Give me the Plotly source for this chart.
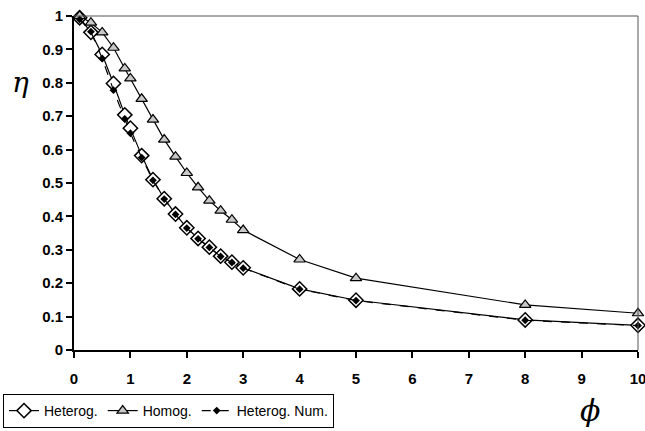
import plotly.graph_objects as go

phi = [0.1, 0.3, 0.5, 0.7, 0.9, 1.0, 1.2, 1.4, 1.6, 1.8, 2.0, 2.2, 2.4, 2.6, 2.8, 3.0, 4, 5, 8, 10]
heterog = [0.995, 0.951, 0.885, 0.798, 0.704, 0.664, 0.582, 0.51, 0.453, 0.407, 0.366, 0.334,
           0.308, 0.281, 0.263, 0.246, 0.183, 0.149, 0.09, 0.074]
homog = [1.0, 0.98, 0.951, 0.905, 0.843, 0.813, 0.752, 0.69, 0.63, 0.579, 0.53, 0.487,
         0.447, 0.417, 0.39, 0.359, 0.271, 0.215, 0.135, 0.11]
heterog_num = [0.99, 0.953, 0.873, 0.778, 0.692, 0.649, 0.576, 0.508, 0.452, 0.406, 0.365, 0.333,
               0.307, 0.28, 0.262, 0.245, 0.182, 0.148, 0.089, 0.073]

x_ticks = list(range(0, 11))
x_ticklabels = [str(v) for v in x_ticks]
y_ticks = [0, 0.1, 0.2, 0.3, 0.4, 0.5, 0.6, 0.7, 0.8, 0.9, 1]
y_ticklabels = ["0", "0.1", "0.2", "0.3", "0.4", "0.5", "0.6", "0.7", "0.8", "0.9", "1"]

fig = go.Figure()
fig.add_trace(go.Scatter(
    x=phi, y=heterog, name="Heterog.", mode="lines+markers", cliponaxis=False,
    line=dict(color="black", width=1.2),
    marker=dict(symbol="diamond", size=11, color="white", line=dict(color="black", width=1.5)),
))
fig.add_trace(go.Scatter(
    x=phi, y=homog, name="Homog.", mode="lines+markers", cliponaxis=False,
    line=dict(color="black", width=1.2),
    marker=dict(symbol="triangle-up", size=10, color="#c8c8c8", line=dict(color="black", width=1.2)),
))
fig.add_trace(go.Scatter(
    x=phi, y=heterog_num, name="Heterog. Num.", mode="lines+markers", cliponaxis=False,
    line=dict(color="black", width=1.2, dash="dash"),
    marker=dict(symbol="diamond", size=6, color="black"),
))

tickfont = dict(family="Liberation Sans", size=15, color="black", weight="bold")

fig.update_layout(
    width=645, height=431,
    margin=dict(l=74, r=7, t=16, b=81),
    plot_bgcolor="white", paper_bgcolor="white",
    showlegend=True,
    legend=dict(
        orientation="h", x=3 / 645, y=3 / 431, xanchor="left", yanchor="bottom",
        xref="container", yref="container",
        bordercolor="black", borderwidth=1, bgcolor="white",
        font=dict(family="Liberation Sans", size=14, color="black"),
        itemwidth=30, tracegroupgap=0,
    ),
    xaxis=dict(
        range=[0, 10], tickvals=x_ticks, ticktext=x_ticklabels, automargin=False,
        showgrid=False, zeroline=False, showline=True, linecolor="black", linewidth=2,
        ticks="outside", ticklen=6, tickwidth=2, tickcolor="black",
        tickfont=tickfont, ticklabelstandoff=8, ticklabeloverflow="allow",
    ),
    yaxis=dict(
        range=[0, 1], tickvals=y_ticks, ticktext=y_ticklabels, automargin=False,
        showgrid=False, zeroline=False, showline=True, linecolor="black", linewidth=2,
        ticks="outside", ticklen=6, tickwidth=2, tickcolor="black",
        tickfont=tickfont, ticklabeloverflow="allow",
    ),
    shapes=[
        dict(type="line", xref="paper", yref="paper", x0=0, x1=1, y0=1, y1=1,
             line=dict(color="#555555", width=1)),
        dict(type="line", xref="paper", yref="paper", x0=1, x1=1, y0=0, y1=1,
             line=dict(color="#555555", width=1)),
    ],
    annotations=[
        dict(text="<i>η</i>", xref="paper", yref="paper", x=-0.095, y=0.8, showarrow=False,
             font=dict(family="DejaVu Serif, serif", size=28, color="black"), xanchor="center", yanchor="middle"),
        dict(text="<i>ϕ</i>", x=0.915, y=-0.18, xref="paper", yref="paper", showarrow=False,
             font=dict(family="DejaVu Serif, serif", size=30, color="black"), xanchor="center", yanchor="middle"),
    ],
)

fig.write_html("out.html", config={"displayModeBar": False},
               post_script="document.body.style.margin='0';")
